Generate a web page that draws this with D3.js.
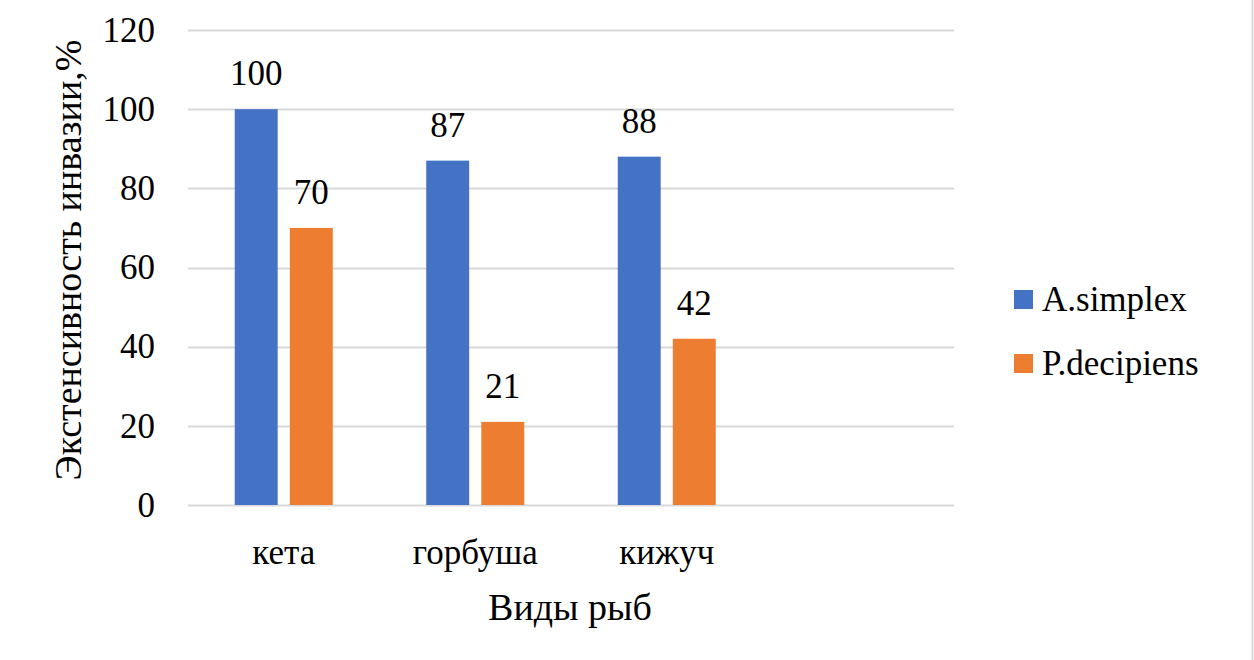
<!DOCTYPE html>
<html>
<head>
<meta charset="utf-8">
<script src="https://cdn.jsdelivr.net/npm/d3@7"></script>
<style>
    html, body { margin: 0; padding: 0; background: #fff; }
</style>
</head>
<body>
<svg id="chart" width="1254" height="660"></svg>
<script>
// categories (the fourth slot is empty in the original chart)
const categories = ['кета', 'горбуша', 'кижуч', ''];
const seriesNames = ['A.simplex', 'P.decipiens'];
const simplexValues = [100, 87, 88, null];
const decipiensValues = [70, 21, 42, null];
const yTicks = [0, 20, 40, 60, 80, 100, 120];
const colors = ['#4472c4', '#ed7d31'];

const FONT = '"Times New Roman", Times, Tinos, "Liberation Serif", "DejaVu Serif", "Noto Serif", FreeSerif, serif';

const svg = d3.select('#chart');
const W = 1254, H = 660;
const plot = { left: 188, right: 954, top: 30, bottom: 505 };

const x0 = d3.scaleBand()
    .domain(categories)
    .range([plot.left, plot.right])
    .paddingInner(0.488)
    .paddingOuter(0.244);

const x1 = d3.scaleBand()
    .domain(seriesNames)
    .range([0, x0.bandwidth()])
    .paddingInner(0.22);

const y = d3.scaleLinear()
    .domain([0, 120])
    .range([plot.bottom, plot.top]);

// gridlines
svg.append('g')
    .selectAll('line')
    .data(yTicks)
    .enter().append('line')
    .attr('x1', plot.left)
    .attr('x2', plot.right)
    .attr('y1', d => Math.round(y(d)) + 0.5)
    .attr('y2', d => Math.round(y(d)) + 0.5)
    .style('stroke', '#d9d9d9')
    .style('stroke-width', 2);

// y axis labels
const yAxis = svg.append('g')
    .attr('transform', `translate(${plot.left - 10},0)`)
    .call(d3.axisLeft(y).tickValues(yTicks).tickSize(0).tickPadding(23))
    .attr('font-family', FONT)
    .attr('font-size', 35);
yAxis.select('.domain').remove();
yAxis.selectAll('text').attr('fill', '#000');

// x axis labels
const xAxis = svg.append('g')
    .attr('transform', `translate(0,${plot.bottom})`)
    .call(d3.axisBottom(x0).tickSize(0).tickPadding(34))
    .attr('font-family', FONT)
    .attr('font-size', 35);
xAxis.select('.domain').remove();
xAxis.selectAll('text').attr('fill', '#000');

// bars
const rows = categories.map((c, i) => ({
    cat: c,
    vals: [simplexValues[i], decipiensValues[i]]
}));

const group = svg.append('g')
    .selectAll('.grp')
    .data(rows)
    .enter().append('g')
    .attr('class', 'grp')
    .attr('transform', d => `translate(${x0(d.cat)},0)`);

const cell = group.selectAll('.bar')
    .data(d => d.vals.map((v, k) => ({ name: seriesNames[k], value: v, k: k })).filter(e => e.value !== null))
    .enter().append('g')
    .attr('class', 'bar');

cell.append('rect')
    .attr('x', d => x1(d.name))
    .attr('width', x1.bandwidth())
    .attr('y', d => y(d.value))
    .attr('height', d => y(0) - y(d.value))
    .style('fill', d => colors[d.k]);

cell.append('text')
    .text(d => d.value)
    .attr('x', d => x1(d.name) + x1.bandwidth() / 2)
    .attr('y', d => y(d.value) - 24)
    .attr('text-anchor', 'middle')
    .attr('font-family', FONT)
    .attr('font-size', 35)
    .attr('fill', '#000');

// axis titles
svg.append('text')
    .text('Виды рыб')
    .attr('x', 570)
    .attr('y', 620)
    .attr('text-anchor', 'middle')
    .attr('font-family', FONT)
    .attr('font-size', 38)
    .attr('fill', '#000');

svg.append('text')
    .text('Экстенсивность  инвазии,%')
    .attr('transform', 'translate(81,260) rotate(-90)')
    .attr('text-anchor', 'middle')
    .attr('font-family', FONT)
    .attr('font-size', 38)
    .attr('fill', '#000');

// legend
const legend = svg.append('g')
    .selectAll('.legend')
    .data(seriesNames)
    .enter().append('g')
    .attr('class', 'legend')
    .attr('transform', (d, i) => `translate(1014,${290 + i * 64})`);

legend.append('rect')
    .attr('width', 19)
    .attr('height', 19)
    .style('fill', (d, i) => colors[i]);

legend.append('text')
    .text(d => d)
    .attr('x', 28)
    .attr('y', 21)
    .attr('font-family', FONT)
    .attr('font-size', 35)
    .attr('fill', '#000');

// right border
svg.append('line')
    .attr('x1', W - 1.5).attr('x2', W - 1.5)
    .attr('y1', 0).attr('y2', H)
    .style('stroke', '#d9d9d9')
    .style('stroke-width', 2);
</script>
</body>
</html>
